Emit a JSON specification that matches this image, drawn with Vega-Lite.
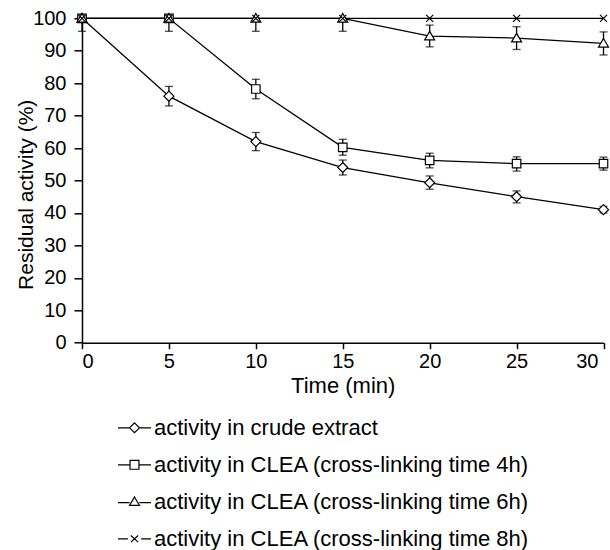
{
  "$schema": "https://vega.github.io/schema/vega-lite/v6.json",
  "width": 521.5,
  "height": 324.4,
  "autosize": {"type": "none"},
  "padding": {"left": 82, "top": 18.3, "right": 6.5, "bottom": 207.3},
  "background": "white",
  "config": {
    "view": {"stroke": null},
    "font": "Liberation Sans",
    "axis": {
      "domainColor": "black", "domainWidth": 1.5, "tickColor": "black", "tickWidth": 1.5,
      "labelColor": "black", "labelFont": "Liberation Sans", "labelFontSize": 20,
      "titleColor": "black", "titleFont": "Liberation Sans", "titleFontSize": 21, "titleFontWeight": "normal",
      "grid": false
    }
  },
  "data": {
    "values": [
      {"series": "activity in crude extract", "time": 0, "value": 100},
      {"series": "activity in crude extract", "time": 5, "value": 76, "lo": 73, "hi": 79},
      {"series": "activity in crude extract", "time": 10, "value": 62, "lo": 59.2, "hi": 64.8},
      {"series": "activity in crude extract", "time": 15, "value": 54, "lo": 51.7, "hi": 56.3},
      {"series": "activity in crude extract", "time": 20, "value": 49.3, "lo": 47.3, "hi": 51.4},
      {"series": "activity in crude extract", "time": 25, "value": 45, "lo": 43.1, "hi": 46.8},
      {"series": "activity in crude extract", "time": 30, "value": 41, "lo": 40, "hi": 42},
      {"series": "activity in CLEA (cross-linking time 4h)", "time": 0, "value": 100},
      {"series": "activity in CLEA (cross-linking time 4h)", "time": 5, "value": 100},
      {"series": "activity in CLEA (cross-linking time 4h)", "time": 10, "value": 78.2, "lo": 75.2, "hi": 81.2},
      {"series": "activity in CLEA (cross-linking time 4h)", "time": 15, "value": 60.2, "lo": 57.8, "hi": 62.7},
      {"series": "activity in CLEA (cross-linking time 4h)", "time": 20, "value": 56.2, "lo": 53.9, "hi": 58.4},
      {"series": "activity in CLEA (cross-linking time 4h)", "time": 25, "value": 55.2, "lo": 52.9, "hi": 57.3},
      {"series": "activity in CLEA (cross-linking time 4h)", "time": 30, "value": 55.2, "lo": 53.2, "hi": 57.2},
      {"series": "activity in CLEA (cross-linking time 6h)", "time": 0, "value": 100, "lo": 96, "hi": 100},
      {"series": "activity in CLEA (cross-linking time 6h)", "time": 5, "value": 100, "lo": 96, "hi": 100},
      {"series": "activity in CLEA (cross-linking time 6h)", "time": 10, "value": 100, "lo": 96, "hi": 100},
      {"series": "activity in CLEA (cross-linking time 6h)", "time": 15, "value": 100, "lo": 96, "hi": 100},
      {"series": "activity in CLEA (cross-linking time 6h)", "time": 20, "value": 94.5, "lo": 91.2, "hi": 97.9},
      {"series": "activity in CLEA (cross-linking time 6h)", "time": 25, "value": 93.9, "lo": 90.4, "hi": 97.4},
      {"series": "activity in CLEA (cross-linking time 6h)", "time": 30, "value": 92.3, "lo": 88.7, "hi": 95.8},
      {"series": "activity in CLEA (cross-linking time 8h)", "time": 0, "value": 100},
      {"series": "activity in CLEA (cross-linking time 8h)", "time": 5, "value": 100},
      {"series": "activity in CLEA (cross-linking time 8h)", "time": 10, "value": 100},
      {"series": "activity in CLEA (cross-linking time 8h)", "time": 15, "value": 100},
      {"series": "activity in CLEA (cross-linking time 8h)", "time": 20, "value": 100},
      {"series": "activity in CLEA (cross-linking time 8h)", "time": 25, "value": 100},
      {"series": "activity in CLEA (cross-linking time 8h)", "time": 30, "value": 100}
    ]
  },
  "encoding": {
    "x": {
      "field": "time", "type": "quantitative",
      "scale": {"domain": [0, 30], "nice": false, "zero": false},
      "axis": {
        "title": "Time (min)", "values": [0, 5, 10, 15, 20, 25, 30], "tickSize": 6,
        "labelPadding": 3,
        "labelOffset": {"condition": {"test": "datum.value == 30", "value": -5.5}, "value": 0},
        "titleBaseline": "alphabetic", "titleY": 50, "titleX": 260.75, "titleAnchor": "middle", "titleFontSize": 22
      }
    },
    "y": {
      "field": "value", "type": "quantitative",
      "scale": {"domain": [0, 100], "nice": false},
      "axis": {
        "title": "Residual activity (%)", "values": [0, 10, 20, 30, 40, 50, 60, 70, 80, 90, 100],
        "tickSize": 8, "labelPadding": 8,
        "titleAngle": -90, "titleBaseline": "alphabetic", "titleX": -50, "titleY": 176, "titleAlign": "center"
      }
    }
  },
  "layer": [
    {
      "mark": {"type": "line", "color": "black", "strokeWidth": 1.3},
      "encoding": {
        "detail": {"field": "series"}
      }
    },
    {
      "transform": [{"filter": "isValid(datum.lo)"}],
      "mark": {"type": "errorbar", "color": "black", "ticks": {"size": 8, "thickness": 1.3}, "rule": {"strokeWidth": 1.3}},
      "encoding": {
        "y": {
          "field": "lo", "type": "quantitative", "title": "Residual activity (%)",
          "axis": {
            "title": "Residual activity (%)", "values": [0, 10, 20, 30, 40, 50, 60, 70, 80, 90, 100],
            "tickSize": 8, "labelPadding": 8,
            "titleAngle": -90, "titleBaseline": "alphabetic", "titleX": -50, "titleY": 176, "titleAlign": "center"
          }
        },
        "y2": {"field": "hi"}
      }
    },
    {
      "mark": {"type": "point", "fill": "white", "stroke": "black", "strokeWidth": 1.2, "size": 100, "opacity": 1},
      "encoding": {
        "shape": {
          "field": "series", "type": "nominal",
          "scale": {
            "domain": ["activity in crude extract", "activity in CLEA (cross-linking time 4h)", "activity in CLEA (cross-linking time 6h)", "activity in CLEA (cross-linking time 8h)"],
            "range": ["M0,-1L1,0L0,1L-1,0Z", "M-0.85,-0.85H0.85V0.85H-0.85Z", "M0,-0.95L1,0.75H-1Z", "M-0.7,-0.7L0.7,0.7M-0.7,0.7L0.7,-0.7"]
          },
          "legend": null
        }
      }
    },
    {
      "transform": [{"filter": "datum.time < 0"}],
      "mark": {"type": "point", "filled": false, "color": "black", "strokeWidth": 1.2, "opacity": 1},
      "encoding": {
        "shape": {
          "field": "series", "type": "nominal",
          "scale": {
            "domain": ["activity in crude extract", "activity in CLEA (cross-linking time 4h)", "activity in CLEA (cross-linking time 6h)", "activity in CLEA (cross-linking time 8h)"],
            "range": [
              "M-1,0H-0.3M0,-0.3L0.3,0L0,0.3L-0.3,0ZM0.3,0H1",
              "M-1,0H-0.27M-0.27,-0.27H0.27V0.27H-0.27ZM0.27,0H1",
              "M-1,0.05H-0.3M0,-0.29L0.3,0.22H-0.3ZM0.3,0.05H1",
              "M-1,0H-0.4M-0.22,-0.2L0.22,0.2M-0.22,0.2L0.22,-0.2M0.4,0H1"
            ]
          },
          "legend": {
            "title": null, "orient": "none", "legendX": 35, "legendY": 392, "padding": 0,
            "symbolSize": 1089, "symbolStrokeWidth": 1.2, "symbolOpacity": 1,
            "labelFont": "Liberation Sans", "labelFontSize": 22, "labelColor": "black", "labelLimit": 600,
            "labelOffset": 2, "rowPadding": 8, "direction": "vertical"
          }
        }
      }
    }
  ],
  "resolve": {"scale": {"shape": "independent"}}
}
